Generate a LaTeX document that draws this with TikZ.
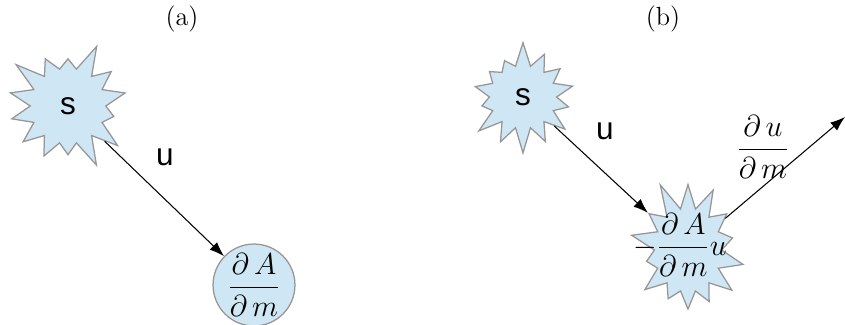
\documentclass[tikz,border=0pt]{standalone}
\usepackage{amsmath}
\usepackage{fontspec}
\usetikzlibrary{shapes.symbols,arrows.meta}
\newfontfamily\labelfont{Liberation Sans}

\definecolor{paleblue}{RGB}{207,230,244}
\definecolor{edgegray}{RGB}{150,150,150}

\tikzset{
  burst/.style={starburst, starburst points=14, starburst point height=#1,
                fill=paleblue, draw=edgegray, line width=0.6pt, inner sep=0pt},
  flow/.style={black, line width=0.5pt, -{Latex[length=7pt,width=5pt]}},
  sanslabel/.style={font=\labelfont\fontsize{15}{17}\selectfont},
  mathlabel/.style={font=\fontsize{15}{18}\selectfont},
  caption/.style={font=\fontsize{12.5}{15}\selectfont}
}

\begin{document}
\begin{tikzpicture}[x=0.476pt, y=-0.476pt]

\useasboundingbox (0, 0) rectangle (845, 325);

% panel (a)
\node[caption] (capa) at (182, 19) {(a)};

\node[burst=14pt, minimum width=64pt, minimum height=64pt, random starburst=3, sanslabel] (srca) at (68, 106) {s};
\node[circle, fill=paleblue, draw=edgegray, line width=0.6pt, minimum size=39pt, inner sep=0pt, mathlabel] (gradA) at (254, 285) {$\dfrac{\partial\,A}{\partial\,m}$};

\draw[flow] (srca) -- (gradA);
\node[sanslabel] (ua) at (165, 157) {u};

% panel (b)
\node[caption] (capb) at (663, 19) {(b)};

\node[burst=12pt, minimum width=56pt, minimum height=54pt, random starburst=7, sanslabel] (srcb) at (523, 97) {s};
\node[burst=15pt, minimum width=62pt, minimum height=70pt, random starburst=11] (prod) at (688, 250) {};
\node[mathlabel] (prodtext) at (680, 245) {$-\dfrac{\partial\,A}{\partial\,m}u$};
\coordinate (out) at (845, 117);

\draw[flow] (srcb) -- (prod);
\draw[flow] (prod) -- (out);

\node[sanslabel] (ub) at (605, 131) {u};
\node[mathlabel] (dudm) at (763, 147) {$\dfrac{\partial\,u}{\partial\,m}$};

\end{tikzpicture}
\end{document}
